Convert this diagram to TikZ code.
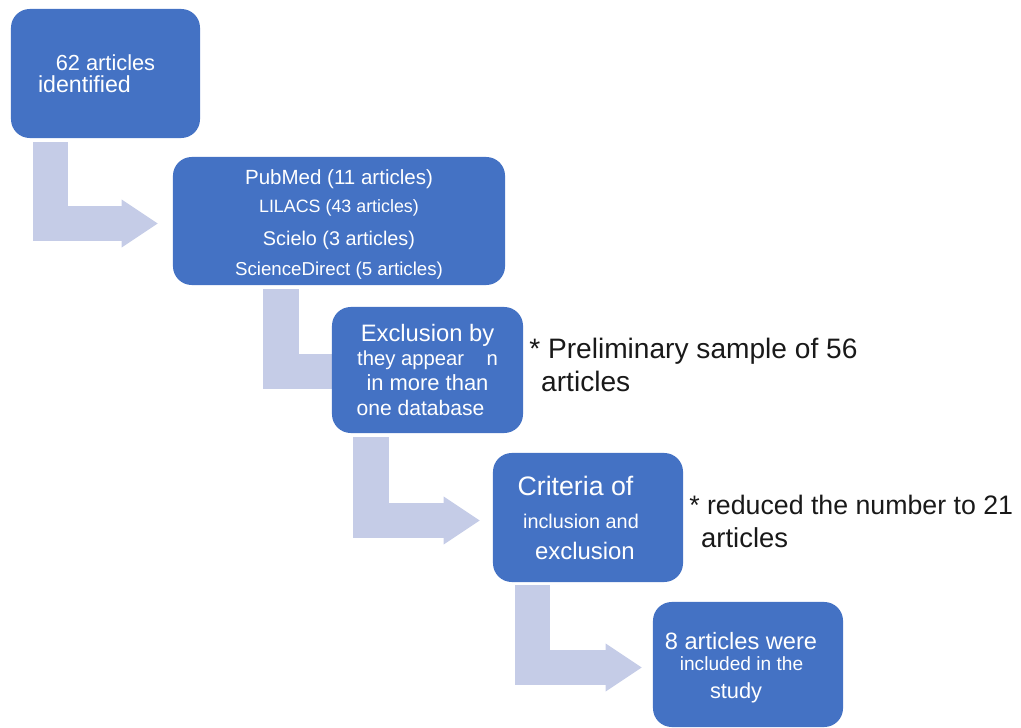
\documentclass[tikz,border=0pt]{standalone}
\usepackage{fontspec}
\setmainfont{Liberation Sans}
\usetikzlibrary{arrows.meta,calc,backgrounds}
\definecolor{boxblue}{HTML}{4472C4}
\definecolor{flowlav}{HTML}{C5CCE7}
\newcommand{\setpt}[2]{\fontsize{#1}{#2}\selectfont}

\begin{document}
\begin{tikzpicture}
      [x=0.025cm, y=-0.025cm,
       stage/.style={
           rectangle,
           rounded corners=0.47cm,
           fill=boxblue,
           text=white,
           align=center,
           inner sep=0pt
         },
       note/.style={
           anchor=west,
           align=left,
           inner sep=0pt,
           text=black!90
         },
       flow/.style={
           draw=flowlav,
           line width=0.875cm,
           line join=miter,
           -{Triangle[length=0.9cm, width=1.2cm, line width=0pt]}
         },
       ]
    \useasboundingbox (0,0) rectangle (1021,728);

    \node [stage, minimum width=4.725cm, minimum height=3.225cm,
           font=\setpt{15.5pt}{15.7pt}] (ident) at (105.5,73.5) {62 articles\\{\setpt{16.5pt}{16.5pt}identified}\rule{29.9pt}{0pt}};

    \node [stage, minimum width=8.3cm, minimum height=3.2cm,
           font=\setpt{13.3pt}{19.9pt}] (bases) at (339,221) {\rule{0pt}{15pt}{\setpt{14.6pt}{14.6pt}PubMed (11 articles)}\\{\setpt{12.7pt}{12.7pt}LILACS (43 articles)}\\[3.6pt]{\setpt{14.1pt}{14.1pt}Scielo (3 articles)}\\[1.4pt]ScienceDirect (5 articles)};

    \node [stage, minimum width=4.775cm, minimum height=3.15cm,
           font=\setpt{15pt}{17.1pt}] (dupl) at (427.5,370) {{\setpt{16.9pt}{16.9pt}Exclusion by}\\{\setpt{14.4pt}{14.4pt}they appear\hspace{16pt}n}\\[0.7pt]{\setpt{15.6pt}{15.6pt}in more than}\\[0.7pt]one database\rule{10pt}{0pt}};

    \node [stage, minimum width=4.75cm, minimum height=3.225cm,
           font=\setpt{17pt}{22.1pt}] (crit) at (588,517.5) {{\setpt{19pt}{19pt}Criteria of}\rule{17.8pt}{0pt}\\[1.4pt]{\setpt{14.1pt}{14.1pt}inclusion and}\rule{10pt}{0pt}\\exclusion\rule{4.3pt}{0pt}};

    \node [stage, minimum width=4.75cm, minimum height=3.125cm,
           font=\setpt{15.5pt}{14.9pt}] (incl) at (748,664.5) {\rule{0pt}{16.5pt}{\setpt{16.8pt}{16.8pt}8 articles were}\rule{10pt}{0pt}\\{\setpt{13.6pt}{13.6pt}included in the}\rule{9.2pt}{0pt}\\[5pt]study\rule{17pt}{0pt}};

    \node [note, font=\setpt{20pt}{23.5pt}] (prelim) at (529,364.5) {* Preliminary sample of 56\\\hspace*{8.5pt}articles};
    \node [note, font=\setpt{19.5pt}{23.5pt}] (reduced) at (689,521.5) {{\setpt{19pt}{19pt}* reduced the number to 21}\\\hspace*{8.5pt}articles};

    \begin{scope}[on background layer]
      \draw [flow] ($(ident.south)+(-55,4)$) |- ($(bases.west)+(-15,2.5)$);
      \draw [flow] ($(bases.south)+(-58,4)$) |- ($(dupl.west)+(40,1.5)$);
      \draw [flow] ($(dupl.south)+(-56.5,4)$) |- ($(crit.west)+(-13,3)$);
      \draw [flow] ($(crit.south)+(-55.5,3)$) |- ($(incl.west)+(-11,3)$);
    \end{scope}

  \end{tikzpicture}
\end{document}
